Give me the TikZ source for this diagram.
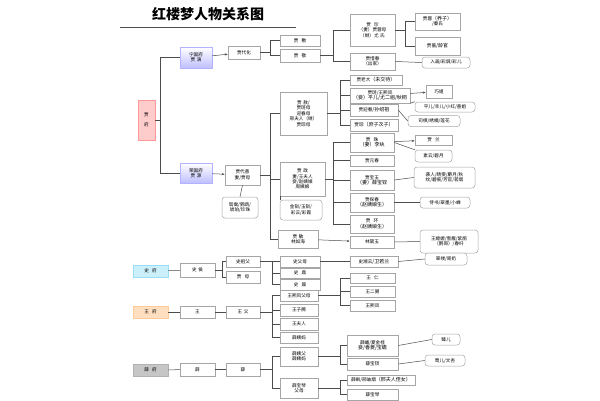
\documentclass[tikz,border=0pt]{standalone}
\usepackage{fontspec}
\setmainfont{Noto Sans CJK SC}
\usetikzlibrary{arrows.meta}
\tikzset{
 box/.style={draw=gray!70,fill=white,inner sep=0.5pt,align=center,font=\fontsize{4.6}{5.4}\selectfont,line width=0.5pt},
 call/.style={box,rounded corners=3pt},
 ln/.style={draw=gray!60!black,line width=0.5pt},
 arr/.style={ln,-{Stealth[length=3pt]}},
 pk/.style={fill=red!20,draw=red!40},
 bl/.style={top color=white,bottom color=blue!25,draw=blue!30},
 sb/.style={fill=cyan!20,draw=cyan!40},
 og/.style={fill=orange!25,draw=orange!40},
 gy/.style={fill=gray!45,draw=gray!60},
}
\newcommand\bx[7][]{\node[box,#1,minimum width=#5pt,minimum height=#6pt,text width={#5pt-2pt}] (#2) at (#3,#4) {#7};}
\newcommand\cl[6]{\node[call,minimum width=#4pt,minimum height=#5pt,text width={#4pt-3pt}] (#1) at (#2,#3) {#6};}
\begin{document}
\begin{tikzpicture}[x=1pt,y=-1pt]
\useasboundingbox (0,0) rectangle (600,400);
\fill[white] (0,0) rectangle (600,400);
\node[font=\fontsize{14}{14}\selectfont\bfseries] (title) at (208,14) {红楼梦人物关系图};
\draw[ln] (120,27) -- (296,27);
% nodes
\bx[pk]{jiafu}{146.5}{120}{17}{40}{贾\\[4pt]府}
\bx[bl]{ning}{196}{57.5}{32}{21}{宁国府\\贾\ 演}
\bx{dh}{244}{52.5}{32}{13}{贾代化}
\bx{fu}{300}{40.5}{40}{11}{贾\ \ 敷}
\bx{jing}{300}{55.5}{40}{13}{贾\ \ 敬}
\bx{zhen}{372.5}{30}{45}{32}{贾\ \ 珍\\（妻）贾蓉母\\（继）尤\ 氏}
\bx{xichun}{372.5}{61.5}{45}{17}{贾惜春\\（出家）}
\bx{rong}{437.5}{21.5}{45}{17}{贾蓉{\tiny （养子）}\\/秦氏}
\bx{qiang}{437.5}{46}{45}{18}{贾蔷{\tiny /龄官}}
\cl{ruhua}{446}{62.5}{48}{11}{入画/彩屏/彩儿}
\bx[bl]{rongguo}{196}{173}{32}{20}{荣国府\\贾\ 源}
\bx{ds}{242.5}{175}{35}{20}{贾代善\\妻/贾母}
\cl{yy}{240}{207.5}{36}{21}{鸳鸯/鹦鹉/\\琥珀/珍珠}
\bx{she}{303.5}{113.5}{47}{43}{贾\ 赦/\\贾琏母\\迎春母\\邢夫人（继）\\贾琮母}
\bx{zheng}{302.5}{179}{45}{34}{贾\ 政\\妻/王夫人\\妾/赵姨娘\\周姨娘}
\bx{min}{298}{239}{40}{18}{贾\ 敏\\林如海}
\cl{jc}{301}{210}{42}{20}{金钏/玉钏/\\彩云/彩霞}
\bx{laoda}{376}{80}{52}{10}{贾老大{\tiny （未交待）}}
\bx{lian}{380}{95.5}{60}{15}{贾琏/王熙凤\\{\tiny （妾）平儿/尤二姐/秋桐}}
\bx{yingchun}{374}{110}{48}{12}{贾迎春{\tiny /孙绍祖}}
\bx{cong}{374}{125}{48}{12}{贾琮{\tiny （庶子次子）}}
\bx{qiaojie}{439}{91.5}{26}{13}{巧姐}
\cl{pinger}{445}{107}{60}{10}{平儿/丰儿/小红/善姐}
\cl{siqi}{434}{121}{52}{11}{司棋/绣橘/莲花}
\bx{zhu}{372}{142.5}{44}{19}{贾\ \ 珠\\{\tiny （妻）李纨}}
\bx{lan}{433.5}{140}{37}{10}{贾\ \ 兰}
\cl{suyun}{433.5}{156}{37}{12}{素云/碧月}
\bx{yuanchun}{372}{160.5}{44}{11}{贾元春}
\bx{baoyu}{372}{180}{44}{20}{贾宝玉\\{\tiny （妻）薛宝钗}}
\cl{xiren}{444.5}{177.5}{61}{21}{袭人/晴雯/麝月/秋\\纹/碧痕/芳官/茗烟}
\bx{tanchun}{372}{202.5}{44}{19}{贾探春\\{\tiny （赵姨娘生）}}
\cl{shishu}{445}{202.5}{50}{11}{侍书/翠墨/小蝉}
\bx{huan}{372}{224}{44}{18}{贾\ \ 环\\{\tiny （赵姨娘生）}}
\bx{daiyu}{372}{242}{44}{12}{林黛玉}
\cl{wmm}{449}{241.5}{58}{23}{王嬷嬷/雪雁/紫鹃\\（鹦哥）/春纤}
\bx[sb]{shifu}{150.5}{271}{35}{12}{史\ \ 府}
\bx{shihou}{197.5}{270}{35}{14}{史\ 侯}
\bx{shizu}{243}{261.5}{34}{11}{史祖父}
\bx{jiamu}{243}{277}{34}{12}{贾\ \ 母}
\bx{shifumu}{300}{261.5}{40}{11}{史父母}
\bx{shiding}{300}{273}{40}{10}{史\ \ 鼎}
\bx{shinai}{300}{284.5}{40}{11}{史\ \ 鼐}
\bx{xiangyun}{374}{261.5}{48}{11}{史湘云{\tiny /卫若兰}}
\cl{cuilv}{446}{259}{42}{12}{翠缕/周奶}
\bx[og]{wangfu}{150.5}{312}{35}{12}{王\ \ 府}
\bx{wang}{197.5}{312}{35}{12}{王}
\bx{wangf}{243}{312}{34}{12}{王\ 父}
\bx{wxfm}{299}{295.5}{38}{11}{王熙凤父母}
\bx{ziteng}{299}{310}{38}{12}{王子腾}
\bx{wangfuren}{299}{324}{38}{12}{王夫人}
\bx{xiyima}{299}{337.5}{38}{11}{薛姨妈}
\bx{wangren}{372.5}{278}{45}{10}{王\ \ 仁}
\bx{erjiu}{372.5}{291.5}{45}{11}{王二舅}
\bx{xifeng}{372.5}{305.5}{45}{11}{王熙凤}
\bx[gy]{xuefu}{150.5}{370}{35}{12}{薛\ \ 府}
\bx{xue1}{197.5}{369.5}{35}{13}{薛}
\bx{xue2}{243}{369.5}{34}{13}{薛}
\bx{xyf}{299}{356.5}{38}{19}{薛姨父\\薛姨妈}
\bx{bqfm}{299}{388}{38}{20}{薛宝琴\\父母}
\bx{xuepan}{372.5}{345.5}{51}{21}{薛蟠/夏金桂\\{\tiny 妾/香菱/宝蟾}}
\bx{baochai}{372.5}{364}{51}{12}{薛宝钗}
\cl{zhener}{446}{339.5}{28}{11}{臻儿}
\cl{yinger}{445}{360.5}{40}{11}{莺儿/文杏}
\bx{xueke}{381}{380}{68}{10}{薛蝌/邢岫烟{\tiny （邢夫人侄女）}}
\bx{baoqin}{372.5}{394.5}{51}{11}{薛宝琴}
% bracket coordinates
\coordinate (v0) at (160,0);
\coordinate (v1) at (270,0);
\coordinate (v2) at (333,0);
\coordinate (v3) at (405,0);
\coordinate (v4) at (340,0);
\coordinate (v5) at (222,0);
\coordinate (v6) at (272,0);
% connectors
\foreach \c in {ning,rongguo} \draw[ln] (jiafu.east) -- (jiafu.east -| v0) |- (\c.west);
\draw[arr] (ning) -- (dh);
\draw[arr] (rongguo) -- (ds);
\foreach \c in {fu,jing} \draw[ln] (dh.east) -- (dh.east -| v1) |- (\c.west);
\foreach \c in {zhen,xichun} \draw[ln] (jing.east) -- (jing.east -| v2) |- (\c.west);
\foreach \c in {rong,qiang} \draw[ln] (zhen.east) -- (zhen.east -| v3) |- (\c.west);
\foreach \c in {she,zheng,min} \draw[ln] (ds.east) -- (ds.east -| v1) |- (\c.west);
\foreach \c in {laoda,lian,yingchun,cong} \draw[ln] (she.east) -- (she.east -| v4) |- (\c.west);
\foreach \c in {zhu,yuanchun,baoyu,tanchun,huan} \draw[ln] (zheng.east) -- (zheng.east -| v2) |- (\c.west);
\draw[arr] (lian) -- (qiaojie);
\draw[arr] (zhu) -- (lan);
\draw[arr] (min) -- (daiyu);
% callouts
\draw[ln] (xichun.east) -- (ruhua.west);
\draw[ln] (ds.south) -- (yy.north);
\draw[ln] (zheng.south west) -- (jc.north west);
\draw[ln] (lian.south east) -- (pinger.north west);
\draw[ln] (yingchun.east) -- (siqi.west);
\draw[ln] (zhu.east) -- (suyun.north west);
\draw[ln] (baoyu.east) -- (xiren.west);
\draw[ln] (tanchun.east) -- (shishu.west);
\draw[ln] (daiyu.east) -- (wmm.west);
\draw[ln] (xiangyun.east) -- (cuilv.west);
\draw[ln] (xuepan.east) -- (zhener.west);
\draw[ln] (baochai.east) -- (yinger.west);
% lower families
\draw[ln] (shifu) -- (shihou);
\foreach \c in {shizu,jiamu} \draw[ln] (shihou.east) -- (shihou.east -| v5) |- (\c.west);
\foreach \c in {shifumu,shiding,shinai} \draw[ln] (shizu.east) -- (shizu.east -| v6) |- (\c.west);
\draw[ln] (shifumu) -- (xiangyun);
\draw[ln] (wangfu) -- (wang);
\draw[ln] (wang) -- (wangf);
\foreach \c in {wxfm,ziteng,wangfuren,xiyima} \draw[ln] (wangf.east) -- (wangf.east -| v6) |- (\c.west);
\foreach \c in {wangren,erjiu,xifeng} \draw[ln] (wxfm.east) -- (wxfm.east -| v4) |- (\c.west);
\draw[ln] (xuefu) -- (xue1);
\draw[ln] (xue1) -- (xue2);
\foreach \c in {xyf,bqfm} \draw[ln] (xue2.east) -- (xue2.east -| v6) |- (\c.west);
\foreach \c in {xuepan,baochai} \draw[ln] (xyf.east) -- (xyf.east -| v4) |- (\c.west);
\foreach \c in {xueke,baoqin} \draw[ln] (bqfm.east) -- (bqfm.east -| v4) |- (\c.west);
\end{tikzpicture}
\end{document}
